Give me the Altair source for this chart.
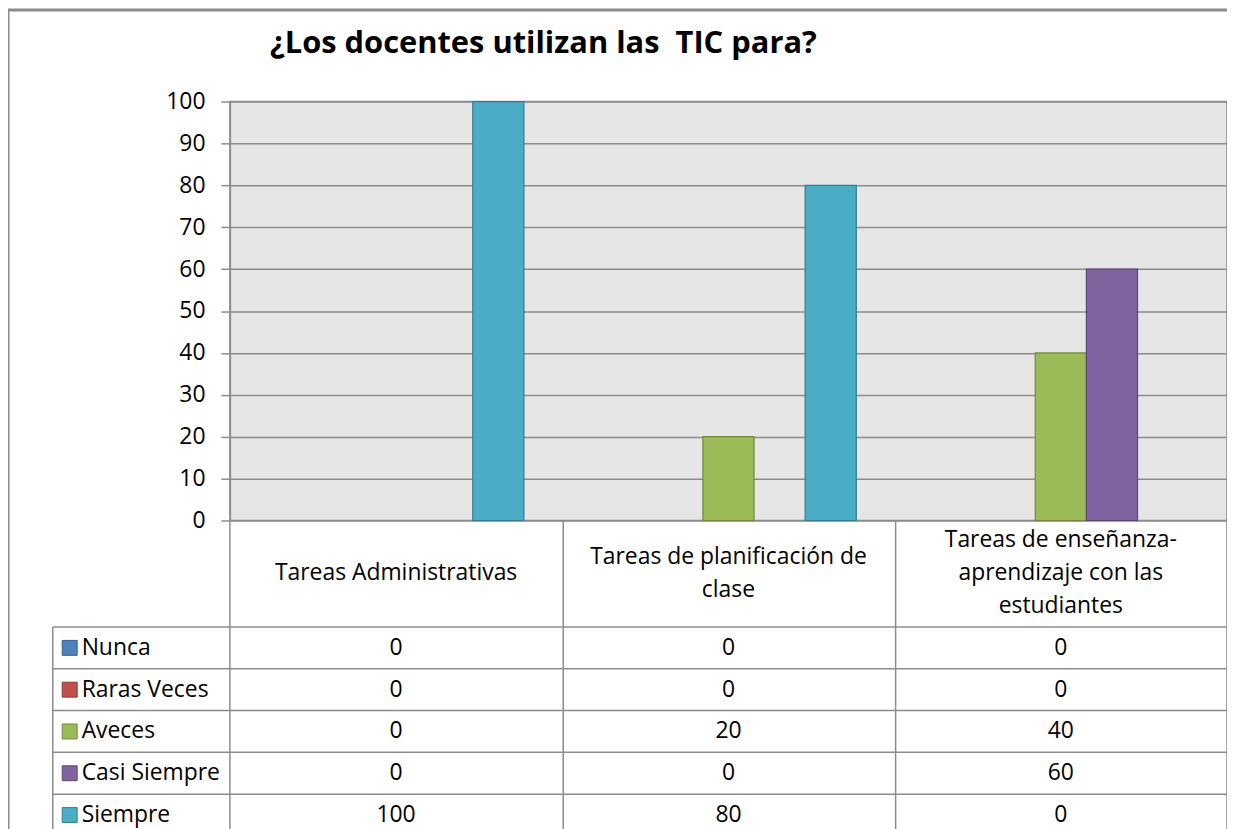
import altair as alt
import pandas as pd

TITLE = "¿Los docentes utilizan las\u00a0 TIC para?"
CATEGORIES = [
    "Tareas Administrativas",
    "Tareas de planificación de clase",
    "Tareas de enseñanza-aprendizaje con las estudiantes",
]
CATEGORY_LINES = [
    ["Tareas Administrativas"],
    ["Tareas de planificación de", "clase"],
    ["Tareas de enseñanza-", "aprendizaje con las", "estudiantes"],
]
SERIES = ["Nunca", "Raras Veces", "Aveces", "Casi Siempre", "Siempre"]
NUNCA = [0, 0, 0]
RARAS_VECES = [0, 0, 0]
AVECES = [0, 20, 40]
CASI_SIEMPRE = [0, 0, 60]
SIEMPRE = [100, 80, 0]
Y_TICKS = [0, 10, 20, 30, 40, 50, 60, 70, 80, 90, 100]

FILL = ["#4F81BD", "#C0504D", "#9BBB59", "#8064A2", "#4BACC6"]
EDGE = ["#385D8A", "#8C3836", "#71893F", "#5C4776", "#357D91"]
GRID = "#8c8c8c"
FONT = "Open Sans"
FS = 23

values = [NUNCA, RARAS_VECES, AVECES, CASI_SIEMPRE, SIEMPRE]
rows = []
for s, vals in zip(SERIES, values):
    for c, v in zip(CATEGORIES, vals):
        rows.append({"categoria": c, "serie": s, "valor": v})
df = pd.DataFrame(rows)
bars_df = df[df["valor"] > 0]

hdr_rows = []
for c, lines_ in zip(CATEGORIES, CATEGORY_LINES):
    n = len(lines_)
    for i, t in enumerate(lines_):
        hdr_rows.append({"categoria": c, "linea": t, "pos": i - (n - 1) / 2})
hdr_df = pd.DataFrame(hdr_rows)
leg_df = pd.DataFrame({"serie": SERIES})
one = pd.DataFrame({"k": [0]})

W, H = 1002, 421

x_scale = alt.Scale(domain=CATEGORIES, paddingInner=0, paddingOuter=0)
color_scale = alt.Scale(domain=SERIES, range=FILL)
stroke_scale = alt.Scale(domain=SERIES, range=EDGE)
row_scale = alt.Scale(type="point", domain=SERIES, range=[549, 717], padding=0)
line_scale = alt.Scale(domain=[-1, 1], range=[474 - 33, 474 + 33])

bars = alt.Chart(bars_df).mark_bar(strokeWidth=1.2).encode(
    x=alt.X("categoria:N", scale=x_scale, axis=None),
    xOffset=alt.XOffset("serie:N", scale=alt.Scale(domain=SERIES, paddingInner=0, paddingOuter=0.75)),
    y=alt.Y("valor:Q", scale=alt.Scale(domain=[0, 100], nice=False),
            axis=alt.Axis(values=Y_TICKS, title=None, grid=True, gridColor=GRID, gridWidth=1.5,
                          domainColor=GRID, domainWidth=1.5, tickColor=GRID, tickWidth=1.5,
                          tickSize=9, labelPadding=16, labelFont=FONT, labelFontSize=FS,
                          labelColor="#000000")),
    color=alt.Color("serie:N", scale=color_scale, legend=None),
    stroke=alt.Stroke("serie:N", scale=stroke_scale, legend=None),
)

table_vals = alt.Chart(df).mark_text(font=FONT, fontSize=FS, color="#000000", baseline="middle").encode(
    x=alt.X("categoria:N", scale=x_scale, axis=None),
    y=alt.Y("serie:N", scale=row_scale, axis=None),
    text=alt.Text("valor:Q", format="d"),
)

headers = alt.Chart(hdr_df).mark_text(font=FONT, fontSize=FS, color="#000000", baseline="middle").encode(
    x=alt.X("categoria:N", scale=x_scale, axis=None),
    y=alt.Y("pos:Q", scale=line_scale, axis=None),
    text="linea:N",
)

legend_sq = alt.Chart(leg_df).mark_square(size=225, opacity=1, strokeWidth=1).encode(
    x=alt.value(-161),
    y=alt.Y("serie:N", scale=row_scale, axis=None),
    color=alt.Color("serie:N", scale=color_scale, legend=None),
    stroke=alt.Stroke("serie:N", scale=stroke_scale, legend=None),
)
legend_txt = alt.Chart(leg_df).mark_text(font=FONT, fontSize=FS, color="#000000", align="left",
                                        baseline="middle").encode(
    x=alt.value(-149),
    y=alt.Y("serie:N", scale=row_scale, axis=None),
    text="serie:N",
)

def rule(x, x2, y, y2, w=1.5):
    return alt.Chart(one).mark_rule(color=GRID, strokeWidth=w).encode(
        x=alt.value(x), x2=alt.value(x2), y=alt.value(y), y2=alt.value(y2))

lines = []
for xv in [0, 335, 669, W]:
    lines.append(rule(xv, xv, H, 740))
lines.append(rule(-178, -178, 528, 740))
for yv in [528, 570, 612, 654, 696]:
    lines.append(rule(-178, W, yv, yv))
lines.append(rule(-223, -223, -92, 740, 3))
lines.append(rule(-223, 1100, -92, -92, 3))

title = alt.Chart(one).mark_text(font=FONT, fontSize=31, fontWeight="bold", color="#000000",
                                 align="center", baseline="alphabetic").encode(
    x=alt.value(315), y=alt.value(-49), text=alt.value(TITLE))

chart = alt.layer(bars, table_vals, headers, legend_sq, legend_txt, title, *lines).resolve_scale(
    y="independent"
).properties(
    width=W, height=H,
    autosize=alt.AutoSizeParams(type="none"),
    padding={"left": 223, "top": 92, "right": 0, "bottom": 308},
    background="#ffffff",
).configure_view(fill="#e6e6e6", stroke=GRID, strokeWidth=1.5)

chart.save("out.html", embed_options={"renderer": "svg", "actions": False})
